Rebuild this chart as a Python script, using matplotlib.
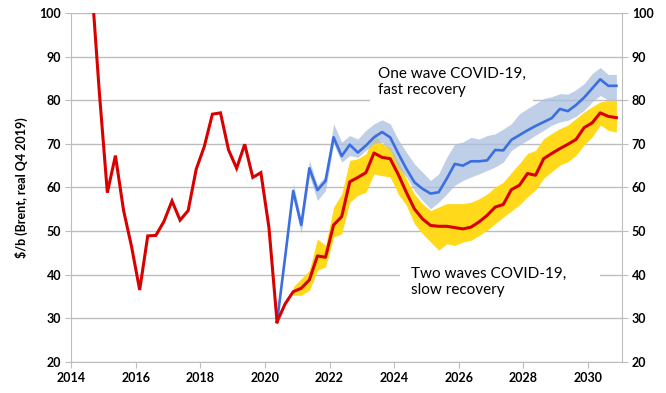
import matplotlib
matplotlib.use("Agg")
import matplotlib.pyplot as plt
import matplotlib.patches as mpatches
import numpy as np

plt.rcParams['font.family'] = ['Lato', 'DejaVu Sans']

# Brent, $/b real Q4 2019, quarterly (Q3 2014 .. Q2 2020)
hist_start = (2014, 3)
history = [108.0, 82.0,
           58.8, 67.3, 54.8, 46.4,
           36.5, 48.9, 49.0, 52.2,
           56.9, 52.5, 54.7, 64.2,
           69.4, 76.8, 77.1, 68.6,
           64.4, 69.9, 62.3, 63.4,
           50.8, 29.2]

# one wave, fast recovery (Q2 2020 .. Q4 2030)
fast_start = (2020, 2)
fast = [29.2, 44.0, 59.2,
        51.4, 64.4, 59.4, 61.5,
        71.5, 67.2, 69.8, 68.0,
        69.6, 71.5, 72.7, 71.5,
        67.8, 64.3, 61.2, 59.7,
        58.6, 58.9, 62.0, 65.4,
        65.0, 66.0, 66.0, 66.2,
        68.6, 68.5, 70.9, 72.0,
        73.1, 74.1, 75.0, 75.9,
        78.0, 77.5, 78.9, 80.6,
        82.7, 84.8, 83.3, 83.3]

# two waves, slow recovery (Q2 2020 .. Q4 2030)
slow_start = (2020, 2)
slow = [29.2, 33.3, 36.1,
        36.9, 38.8, 44.3, 44.0,
        51.4, 53.3, 61.3, 62.3,
        63.4, 67.9, 66.9, 66.6,
        63.0, 58.9, 55.1, 52.8,
        51.3, 51.1, 51.1, 50.8,
        50.5, 50.9, 52.1, 53.6,
        55.5, 56.1, 59.5, 60.5,
        63.2, 62.8, 66.6, 67.8,
        68.9, 69.9, 71.0, 73.7,
        74.8, 77.1, 76.3, 76.0]

# uncertainty ranges (Q4 2020 .. Q4 2030)
band_start = (2020, 4)
fast_hi = [61.0,
           52.5, 66.2, 60.5, 62.7,
           74.6, 70.4, 71.9, 71.1,
           73.1, 74.6, 75.5, 74.6,
           71.0, 68.1, 65.4, 63.5,
           61.6, 63.1, 66.9, 70.0,
           70.4, 71.5, 71.1, 71.9,
           72.3, 73.4, 74.6, 76.9,
           78.1, 79.2, 80.4, 80.8,
           81.5, 81.4, 82.4, 83.8,
           86.1, 87.5, 85.9, 85.9]
fast_lo = [57.5,
           49.5, 62.7, 57.0, 59.3,
           70.0, 65.8, 67.3, 66.9,
           68.5, 70.0, 70.4, 68.5,
           64.5, 62.4, 59.3, 57.0,
           55.1, 56.6, 58.5, 60.5,
           61.6, 62.4, 63.1, 63.9,
           64.7, 65.8, 68.5, 69.7,
           70.8, 72.0, 73.1, 74.3,
           75.0, 75.4, 76.3, 77.7,
           79.6, 81.1, 80.0, 80.0]
slow_hi = [37.2,
           39.1, 41.0, 48.2, 46.7,
           55.5, 58.5, 66.2, 66.6,
           67.7, 72.3, 70.0, 69.2,
           66.0, 62.0, 58.5, 56.3,
           54.7, 55.5, 56.3, 56.3,
           56.3, 56.6, 57.4, 58.5,
           60.1, 61.2, 63.4, 65.5,
           67.8, 68.5, 71.2, 72.4,
           73.5, 74.3, 75.8, 77.3,
           78.5, 79.6, 80.0, 80.0]
slow_lo = [35.3,
           35.3, 36.4, 41.0, 41.8,
           48.6, 49.4, 56.6, 58.2,
           58.9, 63.1, 62.7, 62.4,
           58.5, 55.9, 51.7, 49.4,
           47.5, 45.6, 47.1, 46.7,
           47.5, 47.9, 49.0, 50.2,
           51.7, 53.2, 54.6, 56.0,
           57.9, 59.4, 62.1, 63.6,
           65.1, 65.9, 67.4, 69.7,
           71.6, 74.3, 73.1, 72.7]

x_ticks = [2014, 2016, 2018, 2020, 2022, 2024, 2026, 2028, 2030]
y_ticks = [20, 30, 40, 50, 60, 70, 80, 90, 100]


def quarter_x(start, n):
    # mid-quarter position in years
    year, q = start
    first = year + (q - 0.5) / 4
    return first + np.arange(n) / 4


RED = '#d90000'
BLUE = '#3b6ee0'
YELLOW = '#ffd91a'
BAND_BLUE = '#a9bfe0'
GRID = '#bdbdbd'

fig = plt.figure(figsize=(6.66, 3.93), dpi=100)
ax = fig.add_axes([0.1066, 0.079, 0.8274, 0.888])
ax.set_axisbelow(True)

xb = quarter_x(band_start, len(slow_hi))
ax.fill_between(xb, slow_lo, slow_hi, color=YELLOW, lw=0, zorder=2)
ax.fill_between(xb, fast_lo, fast_hi, color=BAND_BLUE, alpha=0.75, lw=0, zorder=2.1)

ax.plot(quarter_x(fast_start, len(fast)), fast, color=BLUE, lw=1.9, zorder=3)
ax.plot(quarter_x(slow_start, len(slow)), slow, color=RED, lw=2.2, zorder=3.1)
ax.plot(quarter_x(hist_start, len(history)), history, color=RED, lw=2.2, zorder=3.1,
        solid_joinstyle='miter')

ax.set_xlim(2014, 2031.05)
ax.set_ylim(20, 100)
ax.set_xticks(x_ticks)
ax.set_yticks(y_ticks)
ax.yaxis.grid(True, color=GRID, lw=1.0)

for side in ['left', 'right', 'bottom']:
    ax.spines[side].set_color(GRID)
ax.spines['top'].set_visible(False)

ax.tick_params(axis='both', direction='out', length=4, color=GRID,
               labelsize=9, pad=3)
ax.tick_params(axis='y', right=True, labelright=True)
for lab in ax.get_xticklabels() + ax.get_yticklabels():
    lab.set_fontweight('bold')
for lab in ax.yaxis.get_ticklabels(which='major'):
    lab.set_fontweight('bold')
ax.yaxis.set_tick_params(which='major', labelright=True)
for t in ax.yaxis.get_major_ticks():
    t.label2.set_fontweight('bold')

ax.set_ylabel('\\$/b (Brent, real Q4 2019)', fontsize=9, fontweight='bold')
ax.yaxis.set_label_coords(-0.078, 0.5)

# white gaps in the gridlines behind the labels
ax.add_patch(mpatches.Rectangle((2023.26, 79.3), 5.05, 9.0, color='white', lw=0, zorder=1))
ax.add_patch(mpatches.Rectangle((2024.19, 37.0), 6.19, 5.0, color='white', lw=0, zorder=1))

ax.text(2023.5, 84.2, 'One wave COVID-19,\nfast recovery', fontsize=11,
        ha='left', va='center', linespacing=1.25, zorder=4)
ax.text(2024.53, 38.3, 'Two waves COVID-19,\nslow recovery', fontsize=11,
        ha='left', va='center', linespacing=1.25, zorder=4)

fig.savefig('out.png', dpi=100)
